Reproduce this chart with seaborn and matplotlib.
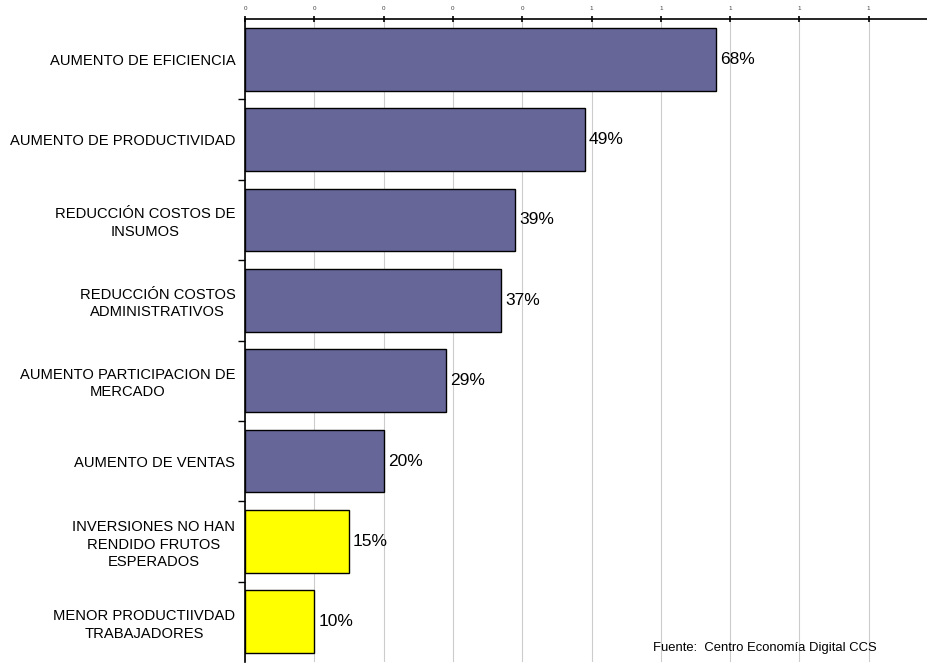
import matplotlib
matplotlib.use("Agg")
import matplotlib.pyplot as plt
import seaborn as sns
import pandas as pd
import numpy as np

categories = [
    "AUMENTO DE EFICIENCIA",
    "AUMENTO DE PRODUCTIVIDAD",
    "REDUCCIÓN COSTOS DE\nINSUMOS",
    "REDUCCIÓN COSTOS\nADMINISTRATIVOS",
    "AUMENTO PARTICIPACION DE\nMERCADO",
    "AUMENTO DE VENTAS",
    "INVERSIONES NO HAN\nRENDIDO FRUTOS\nESPERADOS",
    "MENOR PRODUCTIIVDAD\nTRABAJADORES",
]
values = [0.68, 0.49, 0.39, 0.37, 0.29, 0.20, 0.15, 0.10]
groups = ["pos", "pos", "pos", "pos", "pos", "pos", "neg", "neg"]
palette = {"pos": "#666699", "neg": "#FFFF00"}
tick_values = [0.0, 0.1, 0.2, 0.3, 0.4, 0.5, 0.6, 0.7, 0.8, 0.9]
tick_labels = ["0", "0", "0", "0", "0", "1", "1", "1", "1", "1"]

sns.set_style("white")
plt.rcParams["font.family"] = ["Liberation Sans", "DejaVu Sans"]
plt.rcParams["text.color"] = "black"
plt.rcParams["xtick.color"] = "black"
plt.rcParams["ytick.color"] = "black"
plt.rcParams["axes.labelcolor"] = "black"

df = pd.DataFrame({"cat": categories, "val": values, "grp": groups})

fig = plt.figure(figsize=(9.27, 6.66), dpi=100)
ax = fig.add_axes([245 / 927, 4 / 666, 682 / 927, 643 / 666])

sns.barplot(data=df, y="cat", x="val", hue="grp", palette=palette, dodge=False,
            orient="h", width=0.78, edgecolor="black", linewidth=1.0,
            saturation=1, legend=False, ax=ax, zorder=3)

ax.set_xlim(0, 682 / 693)
ax.set_ylim(len(categories) - 0.5, -0.5)
ax.xaxis.tick_top()
ax.set_xticks(tick_values)
ax.set_xticklabels(tick_labels, fontsize=4.5, color="#444444")
ax.tick_params(axis="x", which="major", top=True, bottom=False, direction="inout",
               length=5, width=1.2, color="black", pad=3)
ax.grid(axis="x", color="#cccccc", linewidth=0.8, zorder=0)
ax.grid(axis="y", visible=False)

ax.set_yticks(np.arange(len(categories)))
ax.set_yticklabels(categories, fontsize=10.6, multialignment="center", color="black",
                   linespacing=1.3)
ax.tick_params(axis="y", which="major", left=False, length=0, pad=7)
ax.set_yticks(np.arange(len(categories) - 1) + 0.5, minor=True)
ax.tick_params(axis="y", which="minor", left=True, direction="out", length=5,
               width=1, color="black")

ax.set_xlabel("")
ax.set_ylabel("")
for s in ["right", "bottom"]:
    ax.spines[s].set_visible(False)
for s in ["left", "top"]:
    ax.spines[s].set_color("black")
    ax.spines[s].set_linewidth(1.2)

for i, v in enumerate(values):
    ax.text(v + 0.006, i, f"{int(round(v * 100))}%", va="center", ha="left",
            fontsize=12.5, color="black")

fig.text(653 / 927, 1 - 648 / 666, "Fuente:  Centro Economía Digital CCS",
         fontsize=9.4, ha="left", va="center", color="black")

fig.savefig("out.png", dpi=100)
